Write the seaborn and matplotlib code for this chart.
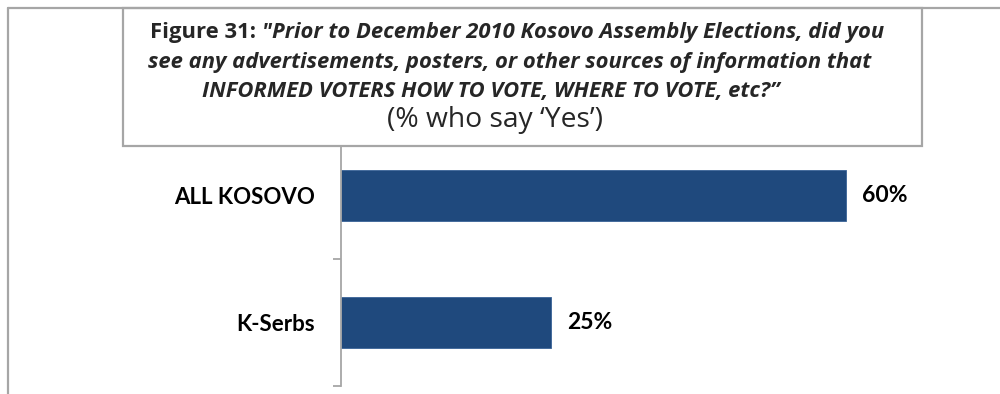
import matplotlib
matplotlib.use("Agg")
import matplotlib.pyplot as plt
import seaborn as sns
import pandas as pd
from matplotlib.lines import Line2D
from matplotlib.patches import Rectangle

categories = ["ALL KOSOVO", "K-Serbs"]
values = [60, 25]
value_labels = ["60%", "25%"]
title_lines = [
    ("Figure 31: ", "\"Prior to December 2010 Kosovo Assembly Elections, did you"),
    ("", "see any advertisements, posters, or other sources of information that"),
    ("", "INFORMED VOTERS HOW TO VOTE, WHERE TO VOTE, etc?\u201d"),
]
subtitle = "(% who say \u2018Yes\u2019)"

sns.set_theme(style="white")
plt.rcParams['font.family'] = ['Lato', 'DejaVu Sans']

W, H = 1000, 394
fig = plt.figure(figsize=(10, 3.94), dpi=100)

def fx(x):
    return x / W

def fy(y):
    return 1 - y / H

ax = fig.add_axes([fx(341), fy(386), fx(930) - fx(341), fy(132) - fy(386)])
df = pd.DataFrame({"cat": categories, "val": values})
sns.barplot(data=df, x="val", y="cat", orient="h", color="#1F497D", width=0.4,
            saturation=1, ax=ax, edgecolor="#3A6397", linewidth=0.6)
ax.set_xlim(0, 70)
ax.set_ylim(1.5, -0.5)
ax.set_xlabel("")
ax.set_ylabel("")
ax.set_xticks([])
for s in ["top", "right", "bottom"]:
    ax.spines[s].set_visible(False)
ax.spines["left"].set_color("#A6A6A6")
ax.spines["left"].set_linewidth(1.3)
ax.set_yticks([0, 1])
ax.set_yticklabels(categories, fontsize=16, fontweight="bold", color="#000000")
ax.set_yticks([-0.5, 0.5, 1.5], minor=True)
ax.tick_params(axis="y", which="major", length=0, pad=18.7)
ax.tick_params(axis="y", which="minor", length=6, width=1.3, color="#A6A6A6", left=True)
ax.patch.set_alpha(0)

for i, (v, lab) in enumerate(zip(values, value_labels)):
    ax.annotate(lab, xy=(v, i), xytext=(11.5, 0), textcoords="offset points",
                ha="left", va="center", fontsize=16.5, fontweight="bold", color="#000000")

# frame lines
gray = "#A6A6A6"
fig.add_artist(Line2D([fx(8), fx(1000)], [fy(8), fy(8)], color=gray, lw=1.6,
                      transform=fig.transFigure, zorder=3))
fig.add_artist(Line2D([fx(8), fx(8)], [fy(8), fy(394)], color=gray, lw=1.6,
                      transform=fig.transFigure, zorder=3))
fig.add_artist(Rectangle((fx(123), fy(146)), fx(922) - fx(123), fy(8) - fy(146),
                         fill=True, facecolor="white", edgecolor=gray, lw=1.6,
                         transform=fig.transFigure, zorder=0.5))

# title
tfam = ['Open Sans', 'DejaVu Sans']
r = fig.canvas.get_renderer()

def width_px(txt, size, **kw):
    t = fig.text(0, 0, txt, fontsize=size, family=tfam, **kw)
    w = t.get_window_extent(r).width
    t.remove()
    return w

probe = 10
total = 0
for pre, txt in title_lines:
    if pre:
        total += width_px(pre, probe, fontweight="bold")
    total += width_px(txt, probe, fontweight="bold", style="italic")
fs = probe * (770 + 685 + 583) / total
sub_fs = probe * 216 / width_px(subtitle, probe)

centers = [517, 510, 491]
baselines = [38, 68, 97]
for (pre, txt), cx, by in zip(title_lines, centers, baselines):
    if pre:
        w1 = width_px(pre, fs, fontweight="bold")
        w2 = width_px(txt, fs, fontweight="bold", style="italic")
        left = cx - (w1 + w2) / 2
        fig.text(fx(left), fy(by), pre, fontsize=fs, fontweight="bold", family=tfam,
                 va="baseline", ha="left")
        fig.text(fx(left + w1), fy(by), txt, fontsize=fs, fontweight="bold", style="italic",
                 family=tfam, va="baseline", ha="left")
    else:
        fig.text(fx(cx), fy(by), txt, fontsize=fs, fontweight="bold", style="italic",
                 family=tfam, va="baseline", ha="center")
fig.text(fx(495), fy(127), subtitle, fontsize=sub_fs, family=tfam, va="baseline", ha="center")

fig.savefig("out.png", dpi=100)
